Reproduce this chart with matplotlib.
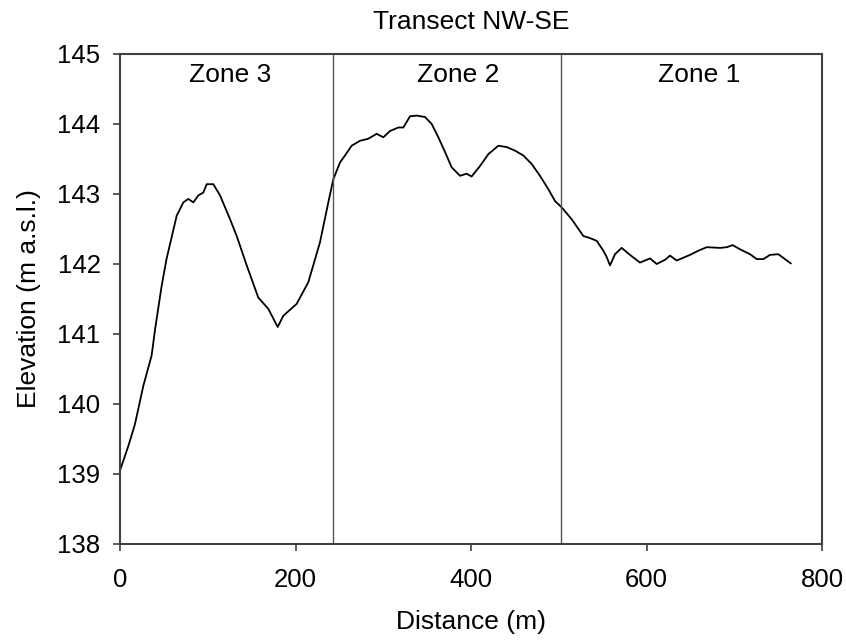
import matplotlib
matplotlib.use("Agg")
import matplotlib.pyplot as plt

plt.rcParams['font.family'] = ['Liberation Sans', 'DejaVu Sans']

distance = [0, 9.5, 17, 26.6, 36, 40, 47.5, 53, 64.6, 72.2, 77.9, 83.6, 89.3, 94.9, 98.8,
            106.4, 114, 125.4, 133, 144.4, 157.6, 169, 179.7, 186.1, 201.3, 214.6, 227.9,
            237.4, 243.1, 250.7, 256.4, 264, 273.5, 283, 292.5, 300.1, 307.7, 317.2, 322.9,
            330.5, 338.1, 347.6, 355.2, 362.8, 370.4, 378, 387.5, 395, 400.7, 410.3, 419.8,
            431.2, 440.7, 450.1, 459.6, 469.1, 478.6, 488.1, 495.7, 503.3, 514.7, 528,
            535.6, 543.3, 550.8, 554.6, 558.4, 564.1, 571.7, 581.2, 592.6, 604, 611.6,
            621.1, 626.8, 634.4, 649.6, 659.1, 668.6, 683.8, 691.5, 698.2, 706.6, 718,
            725.6, 733.2, 740.7, 750.2, 757.8, 764.3]
elevation = [139.05, 139.4, 139.71, 140.26, 140.69, 141.07, 141.69, 142.07, 142.69, 142.88,
             142.93, 142.88, 142.98, 143.02, 143.14, 143.14, 142.98, 142.64, 142.4, 141.98,
             141.52, 141.36, 141.1, 141.26, 141.43, 141.74, 142.31, 142.88, 143.21, 143.45,
             143.55, 143.69, 143.76, 143.79, 143.86, 143.81, 143.9, 143.95, 143.95, 144.11,
             144.12, 144.1, 144.0, 143.81, 143.6, 143.38, 143.26, 143.29, 143.25, 143.4,
             143.57, 143.69, 143.67, 143.62, 143.55, 143.43, 143.26, 143.07, 142.9, 142.81,
             142.64, 142.4, 142.37, 142.33, 142.19, 142.1, 141.98, 142.14, 142.23, 142.13,
             142.02, 142.08, 142.0, 142.06, 142.12, 142.05, 142.13, 142.19, 142.24, 142.23,
             142.24, 142.27, 142.21, 142.14, 142.07, 142.07, 142.13, 142.14, 142.07, 142.01]

zone_bounds = [243, 503]
zone_labels = ["Zone 3", "Zone 2", "Zone 1"]
zone_label_x = [125, 385, 660]
x_ticks = [0, 200, 400, 600, 800]
y_ticks = [138, 139, 140, 141, 142, 143, 144, 145]

fig = plt.figure(figsize=(8.46, 6.43), dpi=100)
ax = fig.add_axes([120/846, 1-544/643, (822-120)/846, (544-54)/643])

ax.plot(distance, elevation, color='black', lw=1.3)
for xb in zone_bounds:
    ax.axvline(xb, color='#555555', lw=1.0)
for lab, xl in zip(zone_labels, zone_label_x):
    ax.text(xl, 144.6, lab, ha='center', va='baseline', fontsize=19)

ax.set_xlim(0, 800)
ax.set_ylim(138, 145)
ax.set_xticks(x_ticks)
ax.set_yticks(y_ticks)
ax.tick_params(labelsize=18.5, length=5, width=1.2, color='#404040',
               top=False, right=False)
ax.tick_params(axis='x', pad=12)
ax.tick_params(axis='y', pad=9)
for s in ax.spines.values():
    s.set_color('#404040')
    s.set_linewidth(1.5)
ax.set_xlabel("Distance (m)", fontsize=19, labelpad=13)
ax.set_ylabel("Elevation (m a.s.l.)", fontsize=19, labelpad=12)
ax.set_title("Transect NW-SE", fontsize=19, pad=18)

fig.savefig("out.png", dpi=100)
